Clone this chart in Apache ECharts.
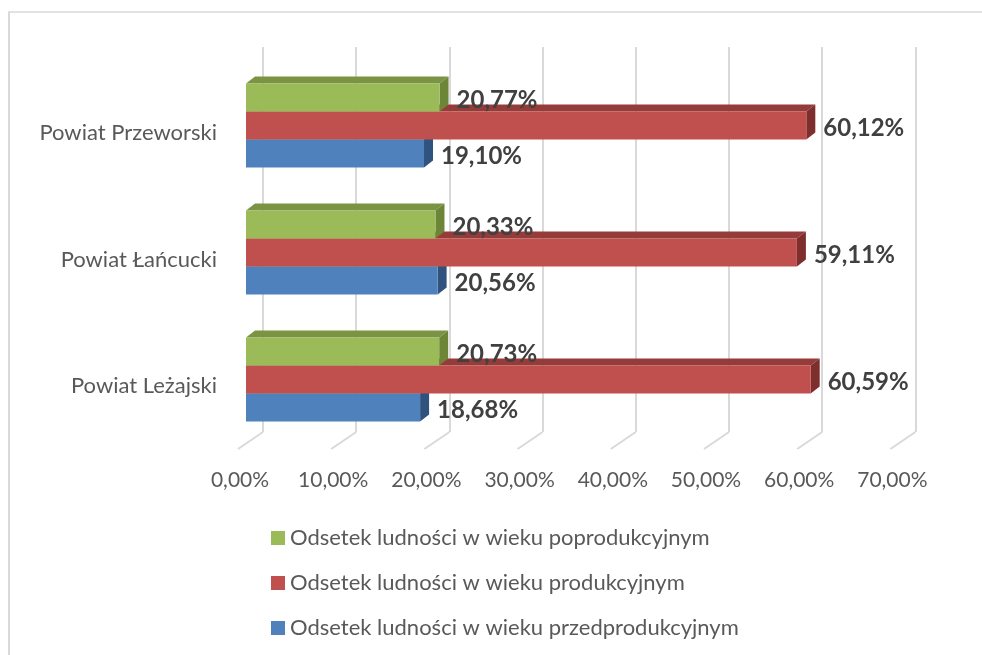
<!DOCTYPE html>
<html><head><meta charset="utf-8">
<style>html,body{margin:0;padding:0;background:#fff}#c{width:982px;height:655px}</style>
<script src="https://cdn.jsdelivr.net/npm/echarts@6/dist/echarts.min.js"></script>
</head><body><div id="c"></div>
<script>
const categories = ['Powiat Leżajski', 'Powiat Łańcucki', 'Powiat Przeworski'];
const seriesNames = ['Odsetek ludności w wieku przedprodukcyjnym', 'Odsetek ludności w wieku produkcyjnym', 'Odsetek ludności w wieku poprodukcyjnym'];
const przedprodukcyjny = [18.68, 20.56, 19.10];
const produkcyjny = [60.59, 59.11, 60.12];
const poprodukcyjny = [20.73, 20.33, 20.77];
const ticks = [0, 10, 20, 30, 40, 50, 60, 70];
const tickLabels = ['0,00%', '10,00%', '20,00%', '30,00%', '40,00%', '50,00%', '60,00%', '70,00%'];
const allValues = [przedprodukcyjny, produkcyjny, poprodukcyjny];
const palette = [
  {front: '#4f81bd', top: '#3b6698', side: '#2f527e'},
  {front: '#c0504d', top: '#953b39', side: '#7e2f2d'},
  {front: '#9bbb59', top: '#7a9444', side: '#6c8537'}
];
const DX = 9, DY = 7;
const fmt = v => v.toFixed(2).replace('.', ',') + '%';

function barRenderer(idx) {
  return function (params, api) {
    const band = api.size([0, 1])[1];
    const h = band * 0.2205;
    const c = api.coord([api.value(0), api.value(1)]);
    const o = api.coord([0, api.value(1)]);
    const yTop = c[1] - h * 0.5 - (idx - 1) * h;
    const yBot = yTop + h;
    const col = palette[idx];
    return {
      type: 'group',
      children: [
        {type: 'polygon', shape: {points: [[o[0], yTop], [o[0] + DX, yTop - DY], [c[0] + DX, yTop - DY], [c[0], yTop]]}, style: {fill: col.top}},
        {type: 'polygon', shape: {points: [[c[0], yTop], [c[0] + DX, yTop - DY], [c[0] + DX, yBot - DY], [c[0], yBot]]}, style: {fill: col.side}},
        {type: 'rect', shape: {x: o[0], y: yTop, width: c[0] - o[0], height: h}, style: {fill: col.front}},
        {type: 'text', style: {x: c[0] + 17, y: (yTop + yBot) / 2 + 3, text: fmt(api.value(0)), fill: '#404040', font: 'bold 24px Lato', verticalAlign: 'middle', align: 'left'}}
      ]
    };
  };
}

const barSeries = seriesNames.map((name, i) => ({
  name, type: 'custom', xAxisIndex: 0, yAxisIndex: 0, z: 5 + i,
  itemStyle: {color: palette[i].front},
  encode: {x: 0, y: 1}, clip: false,
  renderItem: barRenderer(i),
  data: allValues[i].map((v, k) => [v, k])
}));

const stubSeries = {
  type: 'custom', xAxisIndex: 1, yAxisIndex: 1, z: 1, silent: true, clip: false,
  encode: {x: 0, y: 1},
  renderItem(params, api) {
    const p = api.coord([api.value(0), 0]);
    return {type: 'line', shape: {x1: p[0], y1: p[1], x2: p[0] - 25, y2: p[1] + 17}, style: {stroke: '#d9d9d9', lineWidth: 2}};
  },
  data: ticks.map(t => [t, 0])
};

const W = 652.4;
const option = {
  animation: false,
  backgroundColor: '#fff',
  textStyle: {fontFamily: 'Lato'},
  graphic: [
    {type: 'line', shape: {x1: 8, y1: 12, x2: 982, y2: 12}, style: {stroke: '#d9d9d9', lineWidth: 1.5}},
    {type: 'line', shape: {x1: 9, y1: 12, x2: 9, y2: 655}, style: {stroke: '#d9d9d9', lineWidth: 2}}
  ],
  legend: {
    orient: 'vertical', left: 266, top: 522, itemWidth: 14, itemHeight: 14, itemGap: 23, icon: 'rect',
    data: [seriesNames[2], seriesNames[1], seriesNames[0]],
    textStyle: {color: '#595959', fontSize: 22, fontFamily: 'Lato'}
  },
  grid: [
    {left: 246, width: W, top: 62, height: 381},
    {left: 263, width: W, top: 47, height: 385},
    {left: 240, width: W, top: 47, height: 418},
    {left: 246, width: W, top: 69.5, height: 380}
  ],
  xAxis: [
    {gridIndex: 0, type: 'value', min: 0, max: 70, interval: 10, show: false},
    {gridIndex: 1, type: 'value', min: 0, max: 70, interval: 10, axisLine: {show: false}, axisTick: {show: false}, axisLabel: {show: false},
      splitLine: {show: true, lineStyle: {color: '#d9d9d9', width: 2}}},
    {gridIndex: 2, type: 'value', min: 0, max: 70, interval: 10, axisLine: {show: false}, axisTick: {show: false}, splitLine: {show: false},
      axisLabel: {show: true, margin: 5, color: '#595959', fontSize: 21, fontFamily: 'Lato', formatter: v => tickLabels[ticks.indexOf(v)]}},
    {gridIndex: 3, type: 'value', min: 0, max: 70, interval: 10, show: false}
  ],
  yAxis: [
    {gridIndex: 0, type: 'category', data: categories, show: false},
    {gridIndex: 1, type: 'value', min: 0, max: 1, show: false},
    {gridIndex: 2, type: 'value', min: 0, max: 1, show: false},
    {gridIndex: 3, type: 'category', data: categories, axisLine: {show: false}, axisTick: {show: false}, splitLine: {show: false},
      axisLabel: {margin: 29, color: '#595959', fontSize: 22, fontFamily: 'Lato'}}
  ],
  series: [stubSeries].concat(barSeries)
};
echarts.init(document.getElementById('c'), null, {renderer: 'canvas'}).setOption(option);
</script></body></html>
